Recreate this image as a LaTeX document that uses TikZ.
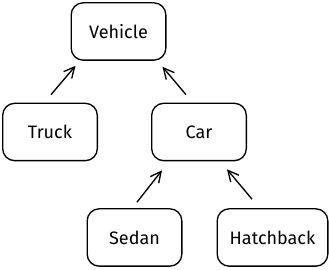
\documentclass[tikz,border=0pt]{standalone}
\usepackage{fontspec}
\setmainfont{Fira Sans}
\usetikzlibrary{calc,arrows.meta}

\tikzset{every picture/.style={line width=1pt}}
\tikzset{
  classbox/.style={draw, rounded corners=9pt, minimum width=71pt, minimum height=43pt,
    inner sep=0pt, font=\fontsize{13.5}{15}\selectfont},
  inherit/.style={-{Straight Barb[length=8pt,width=8pt]}},
}

\begin{document}
\begin{tikzpicture}[x=0.75pt,y=0.75pt,yscale=-1,xscale=1]
	\useasboundingbox (0,0) rectangle (329,270);

	% Class boxes
	\node [classbox] (vehicle) at (118.5,31.5) {Vehicle};
	\node [classbox] (truck) at (50,132) {Truck};
	\node [classbox] (car) at (199,132) {Car};
	\node [classbox] (sedan) at (134.5,237.5) {Sedan};
	\node [classbox, minimum width=83pt] (hatchback) at (272.5,237.5) {Hatchback};

	% Inheritance arrows
	\draw [inherit] ($(truck.north)+(1,-8)$) -- ($(vehicle.south west)+(5,5)$);
	\draw [inherit] ($(car.north)+(-13,-8)$) -- ($(vehicle.south east)+(-4,6)$);
	\draw [inherit] ($(sedan.north)+(2.5,-6)$) -- ($(car.south west)+(11,9)$);
	\draw [inherit] ($(hatchback.north)+(-20.5,-9)$) -- ($(car.south east)+(-20,8)$);

\end{tikzpicture}
\end{document}
